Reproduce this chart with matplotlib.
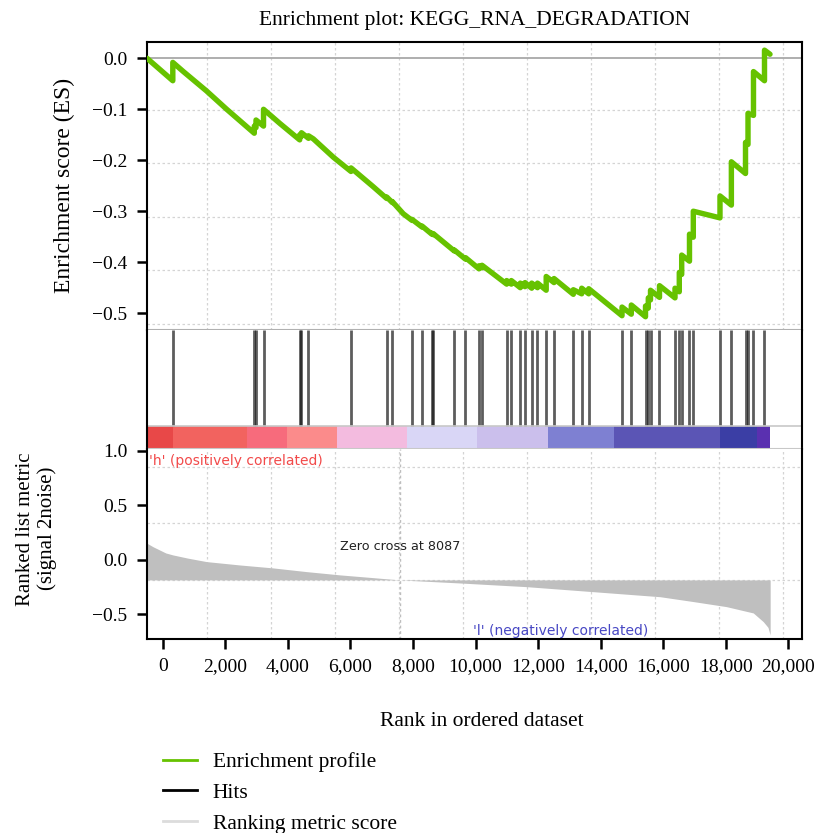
import numpy as np
import matplotlib
matplotlib.use("Agg")
import matplotlib.pyplot as plt
from matplotlib.lines import Line2D
from matplotlib.ticker import StrMethodFormatter

# running enrichment score (rank, ES)
es_rank = [-500, 323, 323, 660, 1400, 2046, 2928, 2928, 2983, 2983, 3223, 3223,
           3750, 4380, 4380, 4437, 4437, 4661, 4661, 4815, 5455, 6020, 6020,
           6733, 7161, 7161, 7340, 7340, 7692, 7970, 7970, 8290, 8290, 8603,
           8603, 8651, 8651, 9322, 9322, 9680, 9680, 10112, 10112, 10208, 10208,
           10997, 10997, 11145, 11145, 11432, 11432, 11583, 11583, 11797, 11797,
           11982, 11982, 12260, 12260, 12510, 12510, 13127, 13127, 13395, 13395,
           13619, 13619, 14684, 14684, 14981, 14981, 15435, 15435, 15524, 15524,
           15595, 15595, 15882, 15882, 16378, 16378, 16515, 16515, 16592, 16592,
           16841, 16841, 16963, 16963, 17816, 17816, 18180, 18180, 18632, 18632,
           18712, 18712, 18887, 18887, 19239, 19239, 19415]
es_score = [0.000, -0.044, -0.008, -0.026, -0.064, -0.100, -0.147, -0.133,
            -0.136, -0.121, -0.133, -0.100, -0.128, -0.160, -0.150, -0.153,
            -0.146, -0.157, -0.152, -0.158, -0.194, -0.222, -0.215, -0.252,
            -0.275, -0.272, -0.283, -0.281, -0.305, -0.318, -0.316, -0.331,
            -0.329, -0.345, -0.343, -0.346, -0.344, -0.378, -0.376, -0.394,
            -0.391, -0.413, -0.407, -0.411, -0.406, -0.443, -0.436, -0.443,
            -0.436, -0.450, -0.441, -0.448, -0.440, -0.451, -0.441, -0.450,
            -0.441, -0.455, -0.428, -0.440, -0.432, -0.463, -0.454, -0.462,
            -0.451, -0.462, -0.452, -0.505, -0.488, -0.502, -0.484, -0.507,
            -0.486, -0.490, -0.470, -0.474, -0.455, -0.469, -0.446, -0.470,
            -0.451, -0.458, -0.420, -0.424, -0.386, -0.398, -0.345, -0.351,
            -0.300, -0.313, -0.270, -0.288, -0.203, -0.226, -0.165, -0.169,
            -0.108, -0.112, -0.026, -0.044, 0.016, 0.008]

# gene set members (hits) in the ranked list
hit_ranks = [323, 2928, 2983, 3223, 4380, 4437, 4661, 6020, 7161, 7340, 7970,
             8290, 8603, 8651, 9322, 9680, 10112, 10208, 10997, 11145, 11432,
             11583, 11797, 11982, 12260, 12510, 13127, 13395, 13619, 14684,
             14981, 15435, 15524, 15595, 15882, 16378, 16515, 16592, 16841,
             16963, 17816, 18180, 18632, 18712, 18887, 19239]

# heat bar under the hits
bar_edges = [-500, 330, 2695, 3974, 5573, 7810, 10048, 12318, 14428, 17817,
             19000, 19415]
bar_colors = ["#e84848", "#f2635f", "#f76b7c", "#fb8b8b", "#f3bbdf",
              "#d9d6f6", "#cbbfec", "#7e80d2", "#5b55b5", "#3b3ea5", "#5a30b0"]

# ranked list metric
metric_rank = [-500, -300, -100, 100, 330, 800, 1400, 2470, 3530, 4600, 5670,
               6720, 7580, 9500, 11640, 13770, 15900, 16970, 18020, 18880,
               19200, 19350, 19420]
metric_value = [0.151, 0.118, 0.090, 0.062, 0.044, 0.015, -0.017, -0.048,
                -0.075, -0.109, -0.139, -0.164, -0.185, -0.213, -0.247, -0.293,
                -0.339, -0.384, -0.430, -0.488, -0.568, -0.620, -0.690]
metric_base = -0.185
zero_cross = 7580

x_ticks = [0, 2000, 4000, 6000, 8000, 10000, 12000, 14000, 16000, 18000, 20000]
es_ticks = [0.0, -0.1, -0.2, -0.3, -0.4, -0.5]
metric_ticks = [1.0, 0.5, 0.0, -0.5]

green = "#66c200"
grid_kw = dict(color="#d4d4d4", lw=0.9, ls=(0, (2, 2)))

plt.rcParams["font.family"] = ["Liberation Serif", "DejaVu Serif"]
plt.rcParams["font.size"] = 14

fig = plt.figure(figsize=(8.2, 8.33), dpi=100)
L, W = 147 / 820, 655 / 820
ax1 = fig.add_axes([L, 1 - 330 / 833, W, 288 / 833])
ax2 = fig.add_axes([L, 1 - 449 / 833, W, 119 / 833], sharex=ax1)
ax3 = fig.add_axes([L, 1 - 639 / 833, W, 190 / 833], sharex=ax1)

xlim = (-502, 20438)

# --- enrichment score ---
for gx in np.arange(1420, 20400, 2045):
    ax1.axvline(gx, **grid_kw, zorder=0)
for gy in np.arange(-0.101, -0.55, -0.105):
    ax1.axhline(gy, **grid_kw, zorder=0)
ax1.axhline(0, color="#a8a8a8", lw=1.3, zorder=1)
ax1.plot(es_rank, es_score, color=green, lw=3.9, solid_joinstyle="round",
         solid_capstyle="round", zorder=3)
ax1.set_xlim(*xlim)
ax1.set_ylim(-0.533, 0.032)
ax1.set_yticks(es_ticks)
ax1.yaxis.set_major_formatter(StrMethodFormatter("{x:.1f}"))
ax1.set_ylabel("Enrichment score (ES)", fontsize=17)
ax1.yaxis.set_label_coords(-0.11, 0.503)
ax1.set_title("Enrichment plot: KEGG_RNA_DEGRADATION", fontsize=15.5, pad=12)
ax1.tick_params(axis="x", bottom=False, labelbottom=False)

# --- hits and heat bar ---
bar_top = 23 / 119
ax2.vlines(hit_ranks, bar_top, 1, color="#111111", lw=2.0, alpha=0.68)
ax2.broken_barh([(a, b - a) for a, b in zip(bar_edges[:-1], bar_edges[1:])],
                (0, bar_top), facecolors=bar_colors)
ax2.axhline(bar_top, color="#c8c8c8", lw=1.2)
ax2.set_ylim(0, 1)
ax2.set_yticks([])
ax2.tick_params(axis="x", bottom=False, labelbottom=False)

# --- ranked list metric ---
for gx in np.arange(1420, 20400, 2045):
    ax3.axvline(gx, **grid_kw, zorder=0)
for gy in [metric_base, metric_base + 0.52, metric_base + 1.04]:
    ax3.axhline(gy, **grid_kw, zorder=0)
ax3.axvline(zero_cross, color="#bdbdbd", lw=1.0, ls=(0, (2, 2)), zorder=0)
ax3.fill_between(metric_rank, metric_value, metric_base, color="#bfbfbf",
                 lw=0, zorder=2)
ax3.set_ylim(-0.727, 1.016)
ax3.set_yticks(metric_ticks)
ax3.yaxis.set_major_formatter(StrMethodFormatter("{x:.1f}"))
ax3.set_ylabel("Ranked list metric\n(signal 2noise)", fontsize=15,
               linespacing=1.1)
ax3.yaxis.set_label_coords(-0.138, 0.58)
ax3.set_xticks(x_ticks)
ax3.xaxis.set_major_formatter(StrMethodFormatter("{x:,.0f}"))
ax3.set_xlabel("Rank in ordered dataset", fontsize=15.5, labelpad=26)
ax3.xaxis.label.set_x(0.511)

sans = ["DejaVu Sans"]
ax3.text(-450, 0.906, "'h' (positively correlated)", color="#f24a4a",
         fontsize=10, va="center", family=sans)
ax3.text(5670, 0.117, "Zero cross at 8087", color="#222222",
         fontsize=9.2, va="center", family=sans)
ax3.text(9920, -0.653, "'l' (negatively correlated)", color="#4848c4",
         fontsize=10, va="center", family=sans)

# frame and ticks
for ax in (ax1, ax2, ax3):
    for side in ("left", "right", "top", "bottom"):
        ax.spines[side].set_color("black")
        ax.spines[side].set_linewidth(1.5)
    ax.tick_params(direction="out", length=7, width=1.8, pad=7)
ax1.spines["bottom"].set_color("#b0b0b0")
ax2.spines["top"].set_visible(False)
ax2.spines["bottom"].set_color("#c8c8c8")
ax3.spines["top"].set_visible(False)

handles = [Line2D([], [], color=green, lw=2),
           Line2D([], [], color="black", lw=2),
           Line2D([], [], color="#dcdcdc", lw=2)]
fig.legend(handles, ["Enrichment profile", "Hits", "Ranking metric score"],
           loc="upper left", bbox_to_anchor=(163 / 820, 1 - 752 / 833),
           frameon=False, fontsize=15.5, handlelength=1.6, handletextpad=0.7,
           borderpad=0, borderaxespad=0, labelspacing=0.5)

fig.savefig("out.png", dpi=100)
